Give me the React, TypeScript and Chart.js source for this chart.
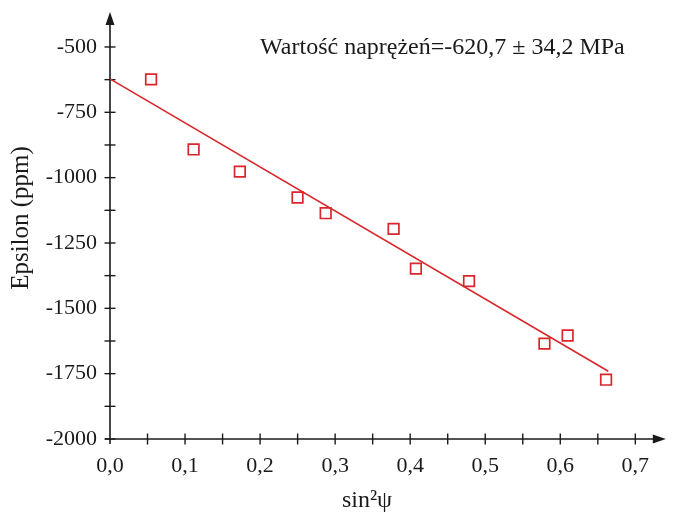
import React, { useEffect, useRef } from "react";
import { Chart, registerables } from "chart.js";

Chart.register(...registerables);

// ---- data ----
const sin2psi = [0.0547, 0.1114, 0.173, 0.2499, 0.2874, 0.3779, 0.4076, 0.4784, 0.5789, 0.6098, 0.661];
const epsilon = [-624, -892, -977, -1076, -1136, -1196, -1348, -1396, -1635, -1604, -1773];
const fitX = [0, 0.664];
const fitY = [-622, -1741];
const xTickValues = [0, 0.1, 0.2, 0.3, 0.4, 0.5, 0.6, 0.7];
const xMinorTicks = [0.05, 0.15, 0.25, 0.35, 0.45, 0.55, 0.65];
const yTickValues = [-2000, -1750, -1500, -1250, -1000, -750, -500];
const yMinorTicks = [-1875, -1625, -1375, -1125, -875, -625];
const annotationText = "Wartość naprężeń=-620,7 ± 34,2 MPa";
const xTitle = "sin²ψ";
const yTitle = "Epsilon (ppm)";

const FONT = '"Liberation Serif", "Times New Roman", serif';
const RED = "#d8262b";
const AXIS = "#1a1a1a";

const axesPlugin = {
  id: "axesPlugin",
  beforeDatasetsDraw(chart: any) {
    const { ctx, chartArea, scales } = chart;
    const xs = scales.x;
    const ys = scales.y;
    const x0 = xs.getPixelForValue(0);
    const yB = ys.getPixelForValue(-2000);
    ctx.save();
    ctx.strokeStyle = AXIS;
    ctx.fillStyle = AXIS;
    ctx.lineWidth = 1.6;
    // y axis
    ctx.beginPath();
    ctx.moveTo(x0, yB + 5);
    ctx.lineTo(x0, chartArea.top + 8);
    ctx.stroke();
    // x axis
    ctx.beginPath();
    ctx.moveTo(x0 - 5, yB);
    ctx.lineTo(chartArea.right - 8, yB);
    ctx.stroke();
    // arrows
    ctx.beginPath();
    ctx.moveTo(x0, chartArea.top - 1);
    ctx.lineTo(x0 - 4.5, chartArea.top + 12);
    ctx.lineTo(x0 + 4.5, chartArea.top + 12);
    ctx.closePath();
    ctx.fill();
    ctx.beginPath();
    ctx.moveTo(chartArea.right, yB);
    ctx.lineTo(chartArea.right - 13, yB - 4.5);
    ctx.lineTo(chartArea.right - 13, yB + 4.5);
    ctx.closePath();
    ctx.fill();
    // tick marks
    ctx.lineWidth = 1.4;
    [...yTickValues, ...yMinorTicks].forEach((v) => {
      const py = ys.getPixelForValue(v);
      ctx.beginPath();
      ctx.moveTo(x0 - 5.5, py);
      ctx.lineTo(x0 + 5.5, py);
      ctx.stroke();
    });
    [...xTickValues, ...xMinorTicks].forEach((v) => {
      if (v === 0) return;
      const px = xs.getPixelForValue(v);
      ctx.beginPath();
      ctx.moveTo(px, yB - 5.5);
      ctx.lineTo(px, yB + 5.5);
      ctx.stroke();
    });
    // annotation
    ctx.fillStyle = "#1a1a1a";
    ctx.font = `24px ${FONT}`;
    ctx.textAlign = "left";
    ctx.textBaseline = "alphabetic";
    ctx.fillText(annotationText, xs.getPixelForValue(0.2), 54);
    // axis titles
    ctx.font = `24px ${FONT}`;
    ctx.textAlign = "center";
    ctx.textBaseline = "alphabetic";
    ctx.fillText(xTitle, 367, 507);
    ctx.save();
    ctx.font = `25px ${FONT}`;
    ctx.translate(28, 218);
    ctx.rotate(-Math.PI / 2);
    ctx.textBaseline = "alphabetic";
    ctx.fillText(yTitle, 0, 0);
    ctx.restore();
    ctx.restore();
  },
};

export default function App() {
  const ref = useRef<HTMLCanvasElement | null>(null);
  useEffect(() => {
    if (!ref.current) return;
    const chart = new Chart(ref.current, {
      type: "scatter",
      data: {
        datasets: [
          {
            label: "fit",
            type: "line",
            data: fitX.map((x, i) => ({ x, y: fitY[i] })),
            borderColor: RED,
            borderWidth: 1.6,
            pointRadius: 0,
            fill: false,
          } as any,
          {
            label: "data",
            data: sin2psi.map((x, i) => ({ x, y: epsilon[i] })),
            pointStyle: "rect",
            pointRadius: 7.5,
            borderColor: RED,
            borderWidth: 1.7,
            backgroundColor: "rgba(255,255,255,0)",
          },
        ],
      },
      options: {
        responsive: false,
        animation: false,
        layout: { padding: { top: 13, right: 0, left: 0, bottom: 0 } },
        plugins: { legend: { display: false }, tooltip: { enabled: false } },
        scales: {
          x: {
            type: "linear",
            min: 0,
            max: 0.7406,
            grid: { display: false, drawTicks: false },
            border: { display: false },
            afterBuildTicks: (s: any) => {
              s.ticks = xTickValues.map((v) => ({ value: v }));
            },
            afterFit: (s: any) => {
              s.height = 76;
              s.paddingLeft = 0;
              s.paddingRight = 0;
            },
            ticks: {
              padding: 14,
              color: "#1a1a1a",
              font: { family: FONT, size: 22 },
              maxRotation: 0,
              autoSkip: false,
              callback: (v: any) => Number(v).toFixed(1).replace(".", ","),
            },
          },
          y: {
            type: "linear",
            min: -2000,
            max: -370,
            grid: { display: false, drawTicks: false },
            border: { display: false },
            afterBuildTicks: (s: any) => {
              s.ticks = yTickValues.map((v) => ({ value: v }));
            },
            afterFit: (s: any) => {
              s.width = 110;
              s.paddingTop = 0;
              s.paddingBottom = 0;
            },
            ticks: {
              padding: 13,
              color: "#1a1a1a",
              font: { family: FONT, size: 22 },
              autoSkip: false,
              callback: (v: any) => String(v),
            },
          },
        },
      },
      plugins: [axesPlugin],
    });
    return () => chart.destroy();
  }, []);
  return (
    <div style={{ position: "absolute", left: 0, top: 0, width: 675, height: 515, background: "#fff" }}>
      <canvas ref={ref} width={675} height={515} />
    </div>
  );
}
